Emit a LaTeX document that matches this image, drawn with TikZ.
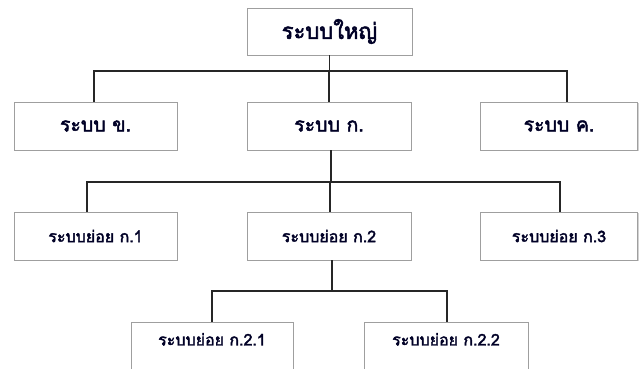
\documentclass[tikz,border=0pt]{standalone}
\usepackage{fontspec}
\newfontfamily\thai[Script=Thai, AutoFakeBold=2.4]{Loma}
\usetikzlibrary{calc,shadows}
\tikzset{
  box/.style={draw=gray!75, line width=0.9pt, fill=white, rectangle, inner sep=0pt,
    drop shadow={shadow xshift=1.2pt, shadow yshift=-1.2pt, fill=gray!35, opacity=1},
    font=\thai\bfseries, text=black!85!blue},
  bigbox/.style={box, minimum height=47pt, font=\thai\bfseries\fontsize{22}{24}\selectfont},
  midbox/.style={box, minimum height=48pt, font=\thai\bfseries\fontsize{19.5}{22}\selectfont},
  smallbox/.style={box, minimum height=48pt, font=\thai\bfseries\fontsize{16}{18}\selectfont},
  conn/.style={draw=black!85, line width=1.4pt}
}
\begin{document}
\begin{tikzpicture}[x=1pt,y=-1pt]
\useasboundingbox (0,0) rectangle (641,369);
\clip (0,0) rectangle (641,369);
\fill[white] (0,0) rectangle (641,369);
% level 1
\node[bigbox, minimum width=165pt] (top) at (329.5,31.5) {ระบบใหญ่};
% level 2
\node[midbox, minimum width=163pt] (b) at (95.5,126) {ระบบ ข.};
\node[midbox, minimum width=164pt] (a) at (329,126) {ระบบ ก.};
\node[midbox, minimum width=157pt] (c) at (559,126) {ระบบ ค.};
% level 3
\node[smallbox, minimum width=163pt] (g1) at (95.5,236) {ระบบย่อย ก.1};
\node[smallbox, minimum width=164pt] (g2) at (329,236) {ระบบย่อย ก.2};
\node[smallbox, minimum width=157pt] (g3) at (559,236) {ระบบย่อย ก.3};
% level 4
\node[smallbox, minimum width=162pt, minimum height=0pt, text height=23pt, text depth=45pt, anchor=north] (g21) at (212,322) {ระบบย่อย ก.2.1};
\node[smallbox, minimum width=164pt, minimum height=0pt, text height=23pt, text depth=45pt, anchor=north] (g22) at (446,322) {ระบบย่อย ก.2.2};
% connectors
\coordinate (h1) at (329.5,71);
\coordinate (h2) at (332,182);
\coordinate (h3) at (332,291);
\draw[conn] (top.south) -- (h1);
\draw[conn] ([xshift=-1.5pt]b.north) |- (h1) -| ([xshift=8pt]c.north);
\draw[conn] (a.north) -- (a.north|-h1);
\draw[conn] ([xshift=2pt]a.south) -- ([xshift=2pt]a.south|-h2);
\draw[conn] ([xshift=-8.5pt]g1.north) |- (h2) -| ([xshift=1pt]g3.north);
\draw[conn] ([xshift=1pt]g2.north) -- ([xshift=1pt]g2.north|-h2);
\draw[conn] ([xshift=3pt]g2.south) -- (h3);
\draw[conn] (g21.north) |- (h3) -| ([xshift=1pt]g22.north);
\end{tikzpicture}
\end{document}
